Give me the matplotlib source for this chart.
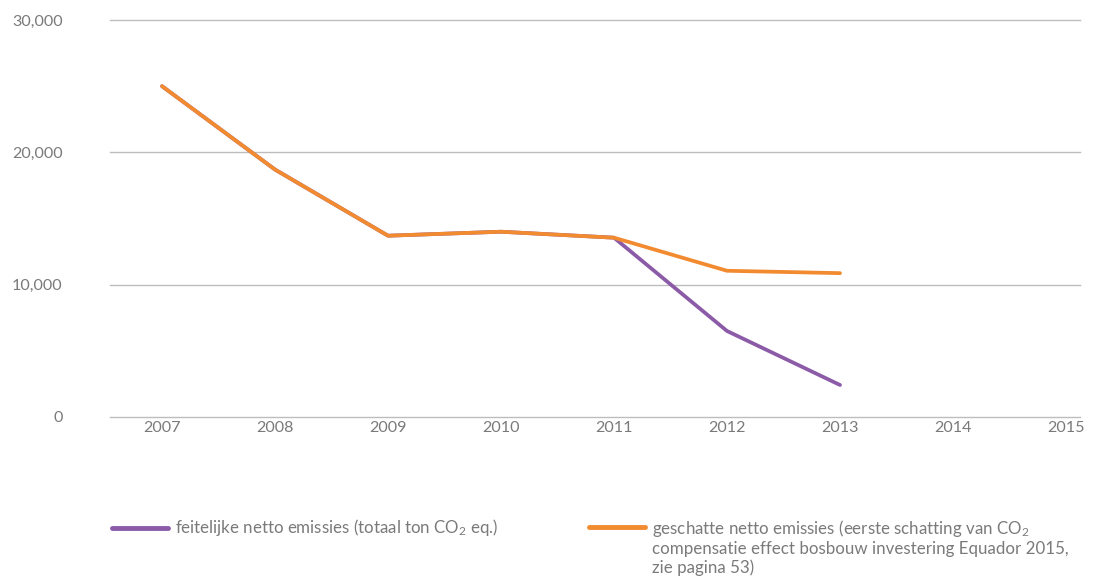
import matplotlib
matplotlib.use("Agg")
import matplotlib.pyplot as plt
from matplotlib.lines import Line2D

plt.rcParams['font.family'] = ['Lato', 'DejaVu Sans']
plt.rcParams['mathtext.fontset'] = 'custom'
plt.rcParams['mathtext.rm'] = 'Lato'
plt.rcParams['mathtext.it'] = 'Lato'

years = ['2007', '2008', '2009', '2010', '2011', '2012', '2013', '2014', '2015']
actual = [25000, 18700, 13700, 14000, 13550, 6500, 2420]
estimated = [25000, 18700, 13700, 14000, 13550, 11050, 10870]
yticks = [0, 10000, 20000, 30000]
ytick_labels = ['0', '10,000', '20,000', '30,000']
label_actual = 'feitelijke netto emissies (totaal ton CO$_2$ eq.)'
label_est = ('geschatte netto emissies (eerste schatting van CO$_2$\n'
             'compensatie effect bosbouw investering Equador 2015,\n'
             'zie pagina 53)')

purple = '#8C5BA8'
orange = '#F28A30'
textc = '#7a7a7a'

W, H = 1106, 577
fig = plt.figure(figsize=(W / 100, H / 100), dpi=100)
ax = fig.add_axes([110 / W, 1 - 417 / H, (1080 - 110) / W, (417 - 20) / H])

x = list(range(len(years)))
ax.plot(x[:len(actual)], actual, color=purple, lw=2.7, solid_capstyle='round', solid_joinstyle='round', zorder=3)
ax.plot(x[:len(estimated)], estimated, color=orange, lw=2.7, solid_capstyle='round', solid_joinstyle='round', zorder=4)

ax.set_ylim(0, 30000)
ax.set_xlim(-52 / 113, 8 + 14 / 113)
ax.set_yticks(yticks)
ax.set_yticklabels(ytick_labels)
ax.set_xticks(x)
ax.set_xticklabels(years)
for yv in yticks:
    ax.axhline(yv, color='#bdbdbd', lw=1.0, zorder=1, clip_on=False)
for s in ax.spines.values():
    s.set_visible(False)
ax.tick_params(axis='both', length=0, colors=textc, labelsize=11.6)
ax.tick_params(axis='y', pad=34)
ax.tick_params(axis='x', pad=3)

# manual legend
def fx(px):
    return px / W

def fy(py):
    return 1 - py / H

fig.add_artist(Line2D([fx(112), fx(168)], [fy(528), fy(528)], color=purple, lw=3.5,
                      solid_capstyle='round', transform=fig.transFigure))
fig.text(fx(175), fy(528), label_actual, color=textc, fontsize=12.2, va='center', ha='left')

fig.add_artist(Line2D([fx(589), fx(645)], [fy(527), fy(527)], color=orange, lw=3.5,
                      solid_capstyle='round', transform=fig.transFigure))
fig.text(fx(652), fy(518), label_est, color=textc, fontsize=12.2, va='top', ha='left',
         linespacing=1.15)

fig.savefig('out.png', dpi=100)
